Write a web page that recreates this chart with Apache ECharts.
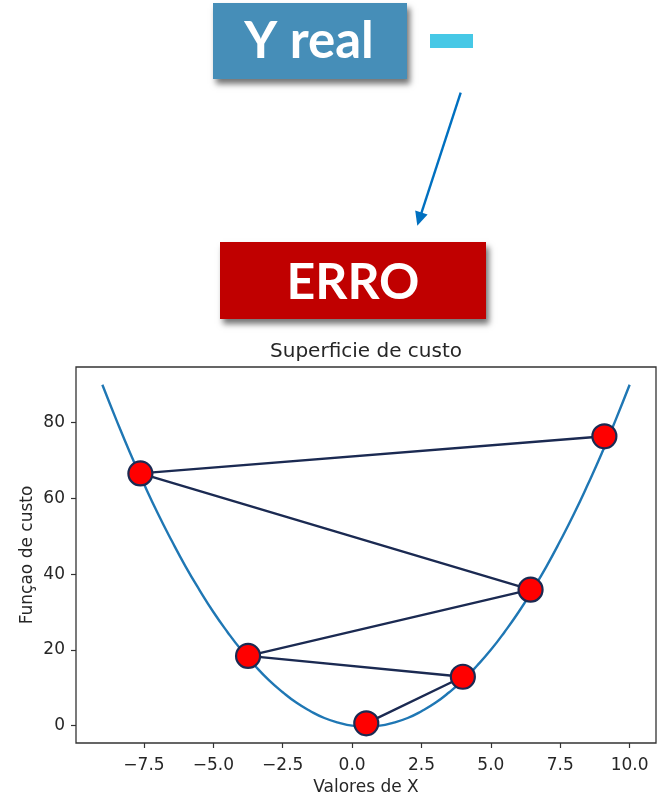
<!DOCTYPE html>
<html>
<head>
<meta charset="utf-8">
<script src="https://cdn.jsdelivr.net/npm/echarts@6/dist/echarts.min.js"></script>
<style>
html,body{margin:0;padding:0;background:#fff;}
#chart{width:666px;height:800px;}
</style>
</head>
<body>
<div id="chart"></div>
<script>
// Cost curve (x, y)
const curveX = [-9,-8.5,-8,-7.5,-7,-6.5,-6,-5.5,-5,-4.5,-4,-3.5,-3,-2.5,-2,-1.5,-1,-0.5,0,0.5,1,1.5,2,2.5,3,3.5,4,4.5,5,5.5,6,6.5,7,7.5,8,8.5,9,9.5,10];
const curveY = [90,80.8,72,63.8,56,48.8,42,35.8,30,24.8,20,15.8,12,8.8,6,3.8,2,0.8,0,-0.2,0,0.8,2,3.8,6,8.8,12,15.8,20,24.8,30,35.8,42,48.8,56,63.8,72,80.8,90];
// Descent path points, in visiting order
const stepX = [9.09,-7.63,6.43,-3.75,3.99,0.51];
const stepY = [76.4,66.6,35.9,18.4,12.9,0.6];
// Tick labels
const xTicks = [-7.5,-5,-2.5,0,2.5,5,7.5,10];
const yTicks = [0,20,40,60,80];

const titleText = 'Superficie de custo';
const xName = 'Valores de X';
const yName = 'Funçao de custo';

const curve = curveX.map((x,i)=>[x,curveY[i]]);
const steps = stepX.map((x,i)=>[x,stepY[i]]);

const tickFont = {fontFamily:'DejaVu Sans', fontSize:17, color:'#262626'};
const fmt = v => {
  const s = (Math.abs(v) < 1e-9 ? 0 : v).toFixed(1);
  return s.replace('-', '\u2212');
};

const chart = echarts.init(document.getElementById('chart'), null, {renderer:'canvas'});
const shadow = {shadowBlur:6, shadowOffsetX:3, shadowOffsetY:5, shadowColor:'rgba(0,0,0,0.55)'};
chart.setOption({
  animation:false,
  backgroundColor:'#ffffff',
  grid:{left:76, right:10, top:367, bottom:57, show:true, borderColor:'#333', borderWidth:1.3, backgroundColor:'transparent'},
  xAxis:{
    type:'value', min:-9.95, max:10.95,
    splitLine:{show:false},
    axisLine:{show:false, onZero:false},
    axisTick:{show:true, inside:false, length:5, lineStyle:{color:'#333', width:1.2}, customValues:xTicks},
    axisLabel:{...tickFont, margin:14, formatter:fmt, customValues:xTicks},
    name:xName, nameLocation:'middle', nameGap:36,
    nameTextStyle:{fontFamily:'DejaVu Sans', fontSize:17, color:'#262626'}
  },
  yAxis:{
    type:'value', min:-4.6, max:94.7,
    splitLine:{show:false},
    axisLine:{show:false, onZero:false},
    axisTick:{show:true, inside:false, length:5, lineStyle:{color:'#333', width:1.2}, customValues:yTicks},
    axisLabel:{...tickFont, margin:11, formatter:v=>String(Math.round(v)), customValues:yTicks},
    name:yName, nameLocation:'middle', nameGap:40, nameRotate:90, nameMoveOverlap:false,
    nameTextStyle:{fontFamily:'DejaVu Sans', fontSize:17, color:'#262626'}
  },
  series:[
    {type:'line', data:curve, smooth:true, showSymbol:false, z:2,
     lineStyle:{color:'#1f77b4', width:2.4}},
    {type:'line', data:steps, showSymbol:false, z:3,
     lineStyle:{color:'#1b2a52', width:2.4}},
    {type:'scatter', data:steps, symbol:'circle', symbolSize:24, z:4,
     itemStyle:{color:'#ff0000', borderColor:'#1b2a52', borderWidth:2.2, opacity:1}}
  ],
  graphic:[
    {type:'rect', shape:{x:213, y:3, width:194, height:76}, style:{fill:'#468eb8', ...shadow}, z:10},
    {type:'text', x:309, y:42, style:{text:'Y real', fill:'#fff', font:'bold 51px Lato', textAlign:'center', textVerticalAlign:'middle'}, z:11},
    {type:'rect', shape:{x:430, y:34, width:43, height:14}, style:{fill:'#46c8e6'}, z:10},
    {type:'line', shape:{x1:460.7, y1:92.7, x2:421.2, y2:213.7}, style:{stroke:'#0070c0', lineWidth:2.4}, z:10},
    {type:'polygon', shape:{points:[[417.3,225.7],[427.6,214.4],[415.2,210.4]]}, style:{fill:'#0070c0'}, z:10},
    {type:'rect', shape:{x:220, y:242, width:266, height:77}, style:{fill:'#c00000', ...shadow}, z:10},
    {type:'text', x:353, y:283, style:{text:'ERRO', fill:'#fff', font:'bold 50px Lato', textAlign:'center', textVerticalAlign:'middle'}, z:11},
    {type:'text', x:366, y:352, style:{text:titleText, fill:'#262626', font:'20px "DejaVu Sans"', textAlign:'center', textVerticalAlign:'middle'}, z:11}
  ]
});
</script>
</body>
</html>
